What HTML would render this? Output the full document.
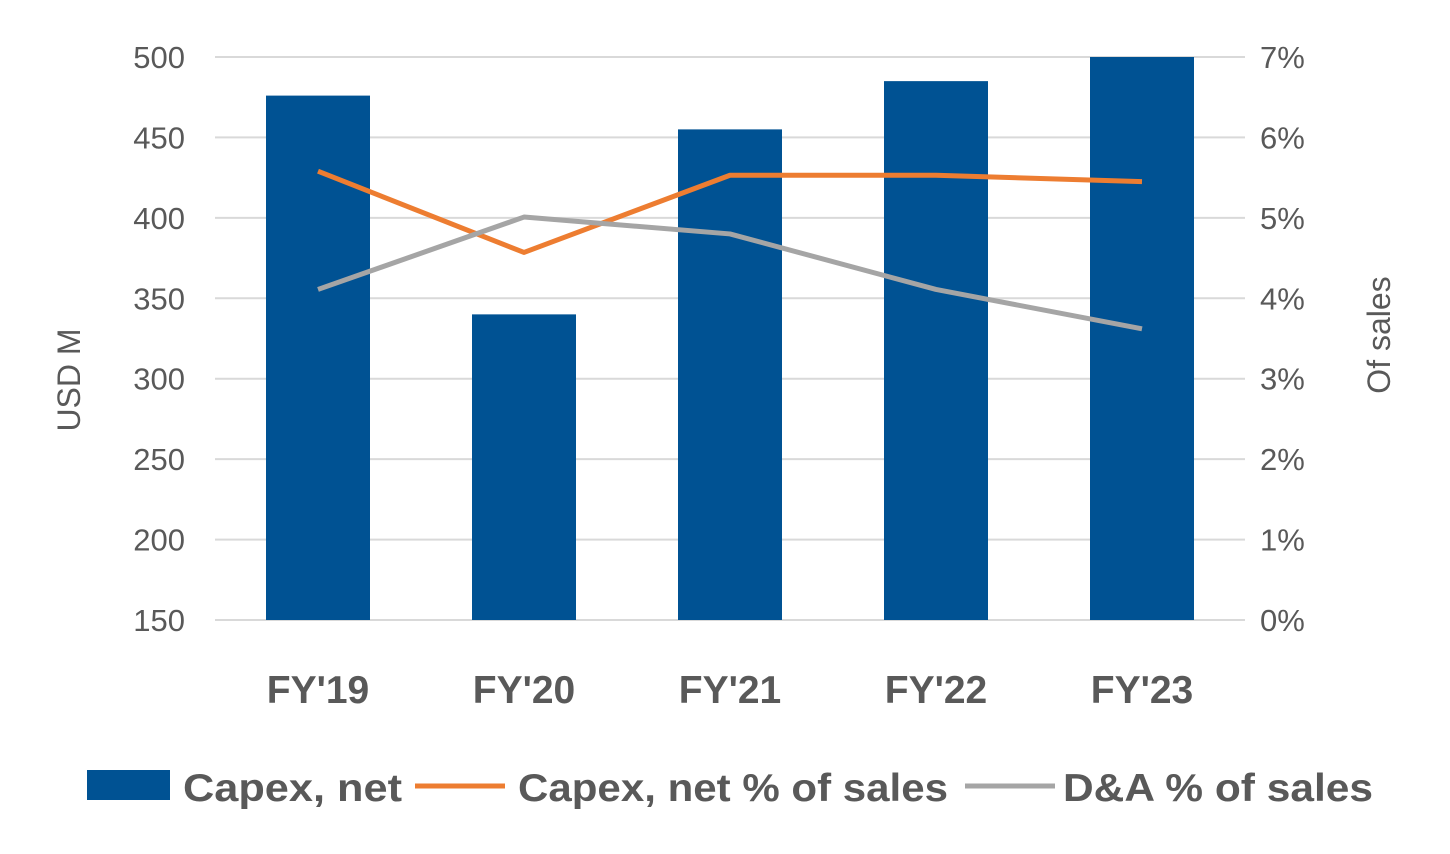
<!DOCTYPE html>
<html><head><meta charset="utf-8"><style>
html,body{margin:0;padding:0;background:#fff;}
svg{display:block;font-family:"Liberation Sans",sans-serif;}
</style></head><body>
<svg id="chart" width="1450" height="854" viewBox="0 0 1450 854">
<g id="grid"></g><g id="bars"></g><g id="lines"></g><g id="axes"></g>
<text transform="translate(80,380) rotate(-90)" text-anchor="middle" font-size="32" fill="#595959">USD M</text>
<text transform="translate(1390,335) rotate(-90)" text-anchor="middle" font-size="32" fill="#595959">Of sales</text>
<g>
<rect x="87" y="770" width="83" height="30" fill="#005293"/>
<text x="183" y="801" font-size="39" font-weight="bold" fill="#595959" textLength="219" lengthAdjust="spacingAndGlyphs">Capex, net</text>
<line x1="415" y1="786" x2="505" y2="786" stroke="#ED7D31" stroke-width="5"/>
<text x="518" y="801" font-size="39" font-weight="bold" fill="#595959" textLength="430" lengthAdjust="spacingAndGlyphs">Capex, net % of sales</text>
<line x1="965" y1="786" x2="1055" y2="786" stroke="#A5A5A5" stroke-width="5"/>
<text x="1063" y="801" font-size="39" font-weight="bold" fill="#595959" textLength="310" lengthAdjust="spacingAndGlyphs">D&amp;A % of sales</text>
</g>
</svg>
<script>
const categories=["FY'19","FY'20","FY'21","FY'22","FY'23"];
const capex=[476,340,455,485,500];
const capexPct=[5.58,4.57,5.53,5.53,5.45];
const daPct=[4.11,5.01,4.80,4.11,3.62];
const leftTicks=[150,200,250,300,350,400,450,500];
const rightTicks=[0,1,2,3,4,5,6,7];
const NS="http://www.w3.org/2000/svg";
const top_=57,bot=620,x0=215,x1=1245;
const yL=v=>bot-(v-150)/350*(bot-top_);
const yR=v=>bot-v/7*(bot-top_);
const step=(x1-x0)/categories.length;
const xC=i=>x0+step*(i+0.5);
function mk(t,a,p){const e=document.createElementNS(NS,t);for(const k in a)e.setAttribute(k,a[k]);p.appendChild(e);return e;}
const grid=document.getElementById('grid'),axes=document.getElementById('axes');
leftTicks.forEach((v,i)=>{
 const l=mk('line',{x1:x0,x2:x1,y1:yL(v),y2:yL(v),stroke:'#D9D9D9','stroke-width':2},grid);
 
 
 const t=mk('text',{x:185,y:yL(v)+11,'text-anchor':'end','font-size':31,fill:'#595959'},axes);
 t.textContent=v;
 
 
});
rightTicks.forEach(v=>{
 const t=mk('text',{x:1260,y:yR(v)+11,'font-size':31,fill:'#595959'},axes);
 t.textContent=v+'%';
 
 
});
categories.forEach((c,i)=>{
 const t=mk('text',{x:xC(i),y:703,'text-anchor':'middle','font-size':39,'font-weight':'bold',fill:'#595959'},axes);
 t.textContent=c;
 
 
});
const bars=document.getElementById('bars');
capex.forEach((v,i)=>{
 const b=mk('rect',{x:xC(i)-52,width:104,y:yL(v),height:bot-yL(v),fill:'#005293'},bars);
 
 
});
const lines=document.getElementById('lines');
const p1=mk('polyline',{points:capexPct.map((v,i)=>xC(i)+','+yR(v)).join(' '),fill:'none',stroke:'#ED7D31','stroke-width':5,'stroke-linejoin':'round'},lines);


const p2=mk('polyline',{points:daPct.map((v,i)=>xC(i)+','+yR(v)).join(' '),fill:'none',stroke:'#A5A5A5','stroke-width':5,'stroke-linejoin':'round'},lines);


</script>
</body></html>
